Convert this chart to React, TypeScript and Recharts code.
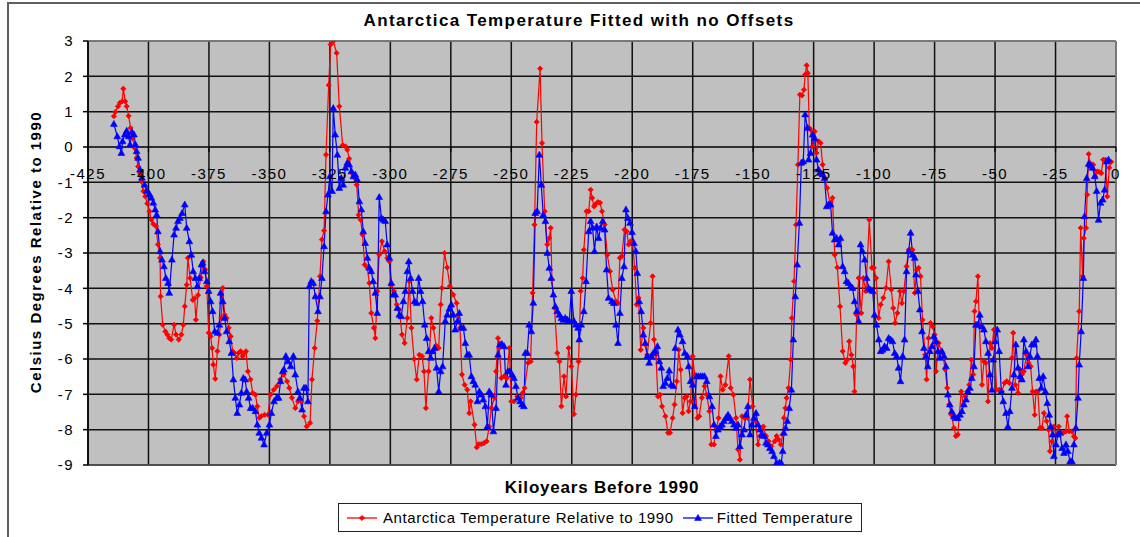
import React from "react";
import {
  CartesianGrid,
  Legend,
  Line,
  LineChart,
  ReferenceLine,
  XAxis,
  YAxis,
} from "recharts";

const TITLE = "Antarctica Temperature Fitted with no Offsets";
const X_TITLE = "Kiloyears Before 1990";
const Y_TITLE = "Celsius Degrees Relative to 1990";
const RED_NAME = "Antarctica Temperature Relative to 1990";
const BLUE_NAME = "Fitted Temperature";

const X_TICKS = [-425, -400, -375, -350, -325, -300, -275, -250, -225, -200, -175, -150, -125, -100, -75, -50, -25, 0];
const Y_TICKS = [-9, -8, -7, -6, -5, -4, -3, -2, -1, 0, 1, 2, 3];
const X_GRID = [-400, -375, -350, -325, -300, -275, -250, -225, -200, -175, -150, -125, -100, -75, -50, -25];
const Y_GRID = [-8, -7, -6, -5, -4, -3, -2, -1, 1, 2];

// [kiloyears, celsius]
const antarctica: [number, number][] = [
  [-414.3, 0.87], [-413.7, 0.99], [-412.6, 1.15], [-411.8, 1.25], [-410.9, 1.29], [-410.4, 1.65],
  [-409.6, 1.29], [-409.0, 1.15], [-408.2, 0.88], [-407.4, 0.54], [-406.5, 0.25], [-405.7, -0.03],
  [-404.9, -0.31], [-404.3, -0.55], [-403.5, -0.74], [-403.0, -0.97], [-402.1, -1.25], [-401.3, -1.4],
  [-400.5, -1.6], [-399.6, -1.82], [-398.8, -2.06], [-398.0, -2.18], [-396.9, -2.24], [-396.1, -2.76],
  [-395.2, -3.14], [-395.0, -4.23], [-394.1, -5.03], [-393.0, -5.22], [-392.2, -5.31], [-391.4, -5.41],
  [-390.6, -5.45], [-389.4, -5.03], [-388.6, -5.31], [-387.5, -5.45], [-386.4, -5.31], [-385.6, -5.03],
  [-385.0, -4.51], [-384.2, -3.9], [-383.7, -3.14], [-382.8, -3.71], [-381.7, -4.33], [-380.9, -4.28],
  [-380.4, -4.89], [-379.5, -4.19], [-378.4, -3.69], [-377.3, -3.24], [-376.5, -3.47], [-375.9, -3.94],
  [-375.1, -5.26], [-374.3, -5.36], [-373.7, -5.69], [-373.2, -6.16], [-372.4, -6.56], [-371.5, -5.78],
  [-370.7, -5.31], [-369.9, -4.84], [-369.3, -3.99], [-368.5, -4.75], [-367.7, -4.84], [-366.8, -5.12],
  [-366.0, -5.36], [-365.2, -5.78], [-364.4, -5.83], [-363.5, -5.97], [-362.7, -5.83], [-361.9, -5.78],
  [-361.1, -5.92], [-360.2, -5.83], [-359.7, -5.78], [-358.9, -6.35], [-357.8, -6.58], [-356.9, -6.96],
  [-355.8, -7.01], [-355.0, -7.34], [-354.2, -7.67], [-353.3, -7.62], [-352.0, -7.58], [-350.6, -7.58],
  [-349.6, -7.01], [-348.2, -6.87], [-346.9, -6.77], [-345.5, -6.58], [-344.1, -6.44], [-342.7, -6.63],
  [-341.8, -6.82], [-340.7, -7.1], [-339.3, -7.39], [-338.2, -7.2], [-336.8, -7.2], [-335.7, -7.62],
  [-334.6, -7.91], [-333.2, -7.81], [-332.4, -6.58], [-331.3, -5.69], [-330.2, -4.92], [-329.1, -3.66],
  [-328.3, -2.62], [-327.4, -2.37], [-326.6, -0.22], [-325.5, 1.75], [-324.7, 2.9], [-323.6, 3.0],
  [-322.2, 2.66], [-321.1, 1.15], [-319.7, 0.05], [-318.6, 0.02], [-317.8, -0.08], [-317.0, -0.33],
  [-315.9, -0.74], [-314.8, -0.88], [-313.9, -1.07], [-313.1, -1.92], [-312.3, -2.06], [-311.5, -2.48],
  [-310.6, -3.33], [-309.5, -3.42], [-308.7, -3.85], [-307.9, -4.7], [-306.8, -5.12], [-306.2, -5.41],
  [-305.4, -4.08], [-304.6, -3.05], [-303.5, -2.67], [-302.4, -2.95], [-301.3, -3.14], [-300.4, -3.24],
  [-299.6, -3.9], [-298.5, -4.08], [-297.4, -4.46], [-296.3, -4.6], [-295.2, -5.31], [-294.1, -5.55],
  [-293.0, -4.84], [-292.2, -3.8], [-291.3, -5.12], [-290.2, -6.0], [-289.1, -6.58], [-288.0, -5.88],
  [-286.9, -5.92], [-286.1, -6.35], [-285.3, -7.39], [-284.2, -6.35], [-283.1, -4.84], [-282.2, -5.12],
  [-281.1, -5.62], [-280.0, -5.69], [-279.2, -4.46], [-278.7, -3.99], [-277.6, -3.0], [-276.5, -3.41],
  [-275.4, -3.94], [-274.0, -4.18], [-272.6, -4.42], [-272.0, -4.75], [-271.2, -5.12], [-270.4, -6.44],
  [-269.3, -6.73], [-268.2, -6.87], [-267.4, -7.53], [-266.8, -7.2], [-265.2, -7.86], [-264.3, -8.5],
  [-263.5, -8.41], [-262.4, -8.41], [-261.3, -8.38], [-260.2, -8.33], [-259.1, -7.91], [-258.3, -7.39],
  [-256.9, -7.1], [-256.3, -6.35], [-255.5, -5.41], [-255.0, -5.69], [-254.1, -6.54], [-253.0, -6.49],
  [-251.9, -6.54], [-250.8, -5.69], [-250.0, -7.2], [-248.9, -7.2], [-247.5, -7.06], [-246.1, -7.1],
  [-245.3, -6.96], [-244.5, -6.82], [-243.1, -6.11], [-242.0, -6.07], [-241.2, -4.13], [-240.4, -2.2],
  [-239.5, 0.71], [-238.1, 2.22], [-237.3, 0.11], [-236.2, -1.82], [-235.1, -2.76], [-234.3, -2.58],
  [-233.7, -2.29], [-233.2, -3.75], [-232.1, -4.56], [-231.0, -5.83], [-230.1, -6.07], [-229.3, -7.34],
  [-228.2, -6.49], [-227.4, -7.06], [-226.3, -5.69], [-225.2, -6.21], [-224.1, -7.56], [-223.3, -7.01],
  [-222.2, -6.07], [-221.3, -4.08], [-220.5, -3.71], [-220.0, -2.91], [-218.9, -1.82], [-218.0, -1.82],
  [-217.2, -1.21], [-216.6, -1.44], [-215.8, -1.68], [-215.3, -1.63], [-214.2, -1.56], [-213.3, -1.58],
  [-212.5, -1.82], [-211.4, -2.2], [-210.3, -3.05], [-209.2, -3.52], [-208.1, -4.04], [-206.7, -4.37],
  [-205.9, -4.42], [-205.1, -3.14], [-204.3, -3.09], [-203.2, -2.34], [-202.3, -2.39], [-201.5, -2.76],
  [-200.7, -2.67], [-199.8, -2.75], [-199.0, -3.42], [-198.2, -4.46], [-197.4, -4.27], [-196.5, -5.74],
  [-195.4, -5.12], [-194.6, -5.59], [-193.8, -5.88], [-192.4, -4.98], [-191.6, -3.66], [-191.0, -5.45],
  [-190.2, -5.88], [-189.4, -7.06], [-188.5, -7.01], [-187.7, -7.34], [-186.3, -7.62], [-185.2, -8.09],
  [-184.4, -8.09], [-183.3, -7.67], [-182.5, -7.29], [-181.6, -6.63], [-180.8, -5.74], [-180.0, -6.3],
  [-179.2, -7.53], [-178.3, -7.1], [-177.5, -7.06], [-176.7, -7.48], [-175.9, -7.2], [-175.0, -5.92],
  [-174.2, -6.44], [-173.1, -7.67], [-172.3, -7.62], [-171.2, -7.1], [-170.1, -6.77], [-169.2, -7.01],
  [-168.1, -7.48], [-167.3, -8.42], [-166.2, -8.42], [-165.1, -7.95], [-164.3, -7.67], [-163.5, -6.49],
  [-162.6, -6.87], [-161.5, -6.73], [-160.1, -5.92], [-159.3, -6.82], [-158.2, -7.01], [-157.1, -7.67],
  [-156.3, -8.56], [-155.5, -8.85], [-154.6, -7.62], [-153.5, -7.67], [-152.4, -7.67], [-151.3, -6.58],
  [-150.2, -7.34], [-149.1, -7.76], [-148.0, -8.42], [-147.2, -8.18], [-145.8, -7.91], [-144.7, -8.18],
  [-143.6, -8.33], [-142.5, -8.47], [-141.1, -8.33], [-140.3, -8.18], [-139.5, -8.28], [-138.6, -8.42],
  [-137.8, -8.14], [-137.3, -7.67], [-136.7, -7.39], [-136.2, -7.1], [-135.4, -6.82], [-134.5, -6.02],
  [-134.0, -4.84], [-133.1, -3.8], [-132.3, -2.2], [-131.5, -0.5], [-130.7, 1.48], [-129.8, 1.46],
  [-129.0, 1.62], [-128.5, 2.05], [-127.9, 2.31], [-127.4, 2.09], [-126.8, 0.54], [-126.3, 0.49],
  [-125.4, 0.02], [-124.6, 0.44], [-123.8, -0.17], [-123.0, 0.16], [-122.1, 0.11], [-121.3, -0.5],
  [-120.5, -0.88], [-119.4, -1.16], [-118.3, -1.58], [-117.2, -1.44], [-116.3, -3.05], [-115.2, -3.41],
  [-114.1, -4.51], [-113.0, -5.78], [-111.9, -6.11], [-111.1, -6.02], [-110.3, -5.5], [-109.4, -5.88],
  [-108.6, -6.21], [-108.1, -6.92], [-107.2, -4.75], [-106.4, -3.71], [-105.3, -4.7], [-104.5, -3.71],
  [-103.4, -4.08], [-102.0, -2.06], [-100.9, -3.42], [-100.1, -3.42], [-99.2, -3.71], [-98.1, -4.84],
  [-97.3, -4.46], [-96.2, -4.27], [-95.1, -3.99], [-94.0, -3.24], [-92.9, -4.04], [-92.1, -4.56],
  [-91.3, -4.98], [-90.4, -4.7], [-89.3, -4.08], [-88.5, -4.42], [-87.7, -4.08], [-86.6, -3.38],
  [-85.7, -2.91], [-84.9, -2.91], [-84.1, -2.91], [-83.2, -4.13], [-82.4, -3.47], [-81.6, -3.42],
  [-80.8, -3.66], [-80.0, -4.89], [-78.9, -5.88], [-78.3, -6.58], [-77.5, -5.41], [-76.7, -4.98],
  [-75.8, -5.08], [-75.0, -5.31], [-74.4, -6.35], [-73.3, -5.55], [-72.2, -5.78], [-71.4, -5.97],
  [-70.6, -6.3], [-69.8, -6.82], [-68.9, -7.29], [-68.1, -7.58], [-67.0, -7.95], [-66.2, -8.18],
  [-65.4, -8.14], [-64.0, -6.92], [-63.1, -7.29], [-62.3, -7.06], [-61.5, -6.92], [-60.7, -6.73],
  [-59.8, -6.02], [-59.0, -6.44], [-58.5, -4.65], [-57.9, -4.37], [-57.1, -3.66], [-56.5, -5.03],
  [-55.4, -6.73], [-54.6, -6.07], [-53.8, -6.11], [-52.9, -7.2], [-52.1, -5.55], [-51.3, -5.69],
  [-50.5, -5.17], [-49.4, -6.87], [-48.3, -6.87], [-47.2, -6.92], [-46.1, -6.68], [-45.2, -6.63],
  [-44.1, -6.68], [-43.0, -5.97], [-42.5, -5.26], [-41.6, -6.73], [-40.5, -6.96], [-39.7, -6.3],
  [-38.9, -6.44], [-38.1, -6.35], [-37.0, -5.88], [-36.1, -6.11], [-35.3, -6.21], [-34.5, -6.92],
  [-33.6, -7.58], [-33.1, -6.92], [-32.3, -6.92], [-31.4, -7.95], [-30.6, -7.95], [-29.8, -7.53],
  [-28.7, -7.76], [-27.9, -8.0], [-27.3, -8.61], [-26.5, -8.33], [-25.7, -7.91], [-24.6, -8.14],
  [-23.7, -7.91], [-22.9, -8.09], [-21.8, -8.09], [-20.7, -8.05], [-20.2, -7.62], [-19.3, -8.05],
  [-18.2, -8.05], [-17.4, -8.19], [-16.8, -8.24], [-16.3, -5.97], [-15.2, -4.65], [-14.6, -2.29],
  [-13.8, -3.66], [-13.3, -2.58], [-12.4, -2.29], [-11.9, -1.35], [-11.3, -0.2], [-10.8, -0.45],
  [-10.0, -0.59], [-9.4, -0.5], [-8.6, -0.83], [-7.7, -0.69], [-6.9, -0.71], [-6.1, -0.74],
  [-5.3, -0.36], [-4.4, -0.36], [-3.6, -1.4], [-2.8, -0.59], [-2.0, -0.42],
];

const fitted: [number, number][] = [
  [-414.3, 0.65], [-412.9, 0.3], [-412.0, 0.02], [-411.2, -0.17], [-410.7, 0.16], [-409.8, 0.35],
  [-409.0, 0.46], [-408.2, 0.3], [-407.6, 0.07], [-406.8, 0.42], [-406.0, 0.35], [-405.4, 0.07],
  [-404.9, -0.12], [-404.3, -0.31], [-403.5, -0.64], [-402.7, -0.87], [-401.6, -1.07], [-400.7, -1.25],
  [-399.6, -1.33], [-398.8, -1.44], [-398.0, -1.58], [-397.2, -1.77], [-396.6, -1.92], [-396.1, -2.39],
  [-395.2, -2.95], [-394.4, -3.19], [-393.6, -3.38], [-392.8, -3.71], [-391.9, -3.85], [-391.4, -4.13],
  [-390.3, -3.19], [-389.4, -2.48], [-388.6, -2.29], [-387.8, -2.1], [-387.0, -2.01], [-386.1, -1.87],
  [-385.0, -1.63], [-384.2, -2.29], [-383.1, -2.67], [-382.3, -3.05], [-381.5, -3.52], [-380.6, -3.71],
  [-379.8, -3.94], [-379.0, -3.71], [-378.1, -3.33], [-377.6, -3.28], [-376.8, -3.52], [-375.9, -3.8],
  [-375.1, -4.08], [-374.3, -4.37], [-373.5, -4.65], [-372.6, -5.22], [-371.5, -5.26], [-370.7, -5.03],
  [-370.2, -4.13], [-369.3, -4.37], [-368.5, -4.84], [-367.7, -5.22], [-366.6, -5.5], [-365.7, -5.83],
  [-364.9, -6.58], [-364.1, -7.1], [-363.3, -7.53], [-362.4, -7.29], [-361.6, -6.96], [-360.8, -6.54],
  [-360.0, -6.58], [-359.4, -6.92], [-358.6, -7.1], [-357.8, -7.39], [-356.9, -7.39], [-355.8, -7.48],
  [-355.0, -7.86], [-354.2, -8.09], [-353.3, -8.23], [-352.2, -8.42], [-351.1, -8.09], [-350.0, -7.86],
  [-349.2, -7.53], [-348.1, -7.2], [-347.0, -7.1], [-346.2, -7.1], [-345.4, -6.63], [-344.5, -6.35],
  [-344.0, -6.3], [-343.2, -5.92], [-342.3, -6.07], [-341.2, -6.21], [-340.1, -5.92], [-339.3, -6.44],
  [-338.2, -6.92], [-337.4, -7.1], [-336.5, -7.43], [-335.7, -6.82], [-334.9, -6.82], [-334.1, -7.2],
  [-333.5, -3.94], [-332.7, -3.8], [-331.9, -3.85], [-331.0, -4.23], [-329.9, -4.65], [-329.1, -4.23],
  [-328.3, -3.71], [-327.4, -2.81], [-326.6, -1.82], [-325.8, -1.35], [-325.0, -0.83], [-324.1, -1.25],
  [-323.6, 1.1], [-322.8, 0.35], [-321.9, -0.22], [-321.1, -1.16], [-320.3, -0.88], [-319.5, -1.07],
  [-318.6, -0.59], [-317.8, -0.45], [-317.0, -0.5], [-316.1, -0.69], [-315.3, -0.83], [-314.5, -0.78],
  [-313.7, -0.92], [-312.8, -1.54], [-312.0, -1.77], [-311.2, -2.39], [-310.4, -2.72], [-309.5, -3.14],
  [-308.7, -3.42], [-307.9, -3.52], [-307.1, -3.8], [-306.2, -4.13], [-305.4, -4.7], [-304.6, -1.42],
  [-303.7, -2.01], [-302.9, -2.06], [-302.1, -2.1], [-301.3, -2.76], [-300.4, -3.14], [-299.6, -3.85],
  [-298.8, -4.18], [-298.0, -4.18], [-297.1, -4.56], [-296.3, -4.75], [-295.5, -4.79], [-294.6, -4.37],
  [-293.8, -4.08], [-293.0, -3.52], [-292.4, -3.24], [-291.6, -3.71], [-290.8, -4.08], [-290.0, -4.37],
  [-289.1, -4.42], [-288.3, -3.71], [-287.5, -4.08], [-286.7, -4.37], [-285.8, -5.03], [-285.0, -5.41],
  [-284.2, -5.78], [-283.3, -5.97], [-282.5, -5.78], [-281.7, -5.69], [-280.9, -6.25], [-280.0, -6.92],
  [-279.2, -6.35], [-278.4, -6.21], [-277.3, -4.93], [-276.5, -4.75], [-275.6, -4.58], [-274.8, -4.46],
  [-274.0, -4.75], [-273.2, -5.17], [-272.3, -4.93], [-271.5, -4.7], [-270.7, -5.12], [-269.8, -5.12],
  [-269.0, -5.55], [-268.2, -5.88], [-267.4, -5.88], [-266.5, -6.49], [-265.7, -6.63], [-264.9, -6.73],
  [-264.0, -7.2], [-263.2, -6.92], [-262.4, -7.01], [-261.6, -7.15], [-260.7, -7.34], [-259.9, -7.91],
  [-259.1, -6.92], [-258.3, -7.01], [-257.4, -8.05], [-256.3, -7.39], [-255.5, -5.88], [-254.7, -5.59],
  [-253.9, -5.58], [-253.0, -5.64], [-252.2, -6.73], [-251.4, -6.35], [-250.6, -6.35], [-249.7, -6.44],
  [-248.9, -6.54], [-248.1, -6.77], [-247.2, -7.1], [-246.4, -7.2], [-245.6, -7.29], [-244.8, -7.34],
  [-244.2, -5.83], [-243.4, -5.83], [-242.6, -5.03], [-241.7, -5.22], [-240.9, -4.41], [-240.1, -1.87],
  [-239.3, -1.82], [-238.4, -0.22], [-237.6, -1.07], [-236.8, -1.92], [-235.9, -2.1], [-235.1, -3.0],
  [-234.3, -3.42], [-233.5, -3.71], [-232.6, -4.18], [-231.8, -4.51], [-231.0, -4.65], [-230.1, -4.75],
  [-229.3, -4.84], [-228.5, -4.89], [-227.7, -4.84], [-226.8, -4.89], [-226.0, -4.93], [-225.2, -4.08],
  [-224.1, -4.93], [-223.3, -5.03], [-222.4, -5.12], [-221.9, -5.45], [-221.1, -5.03], [-220.0, -4.65],
  [-219.1, -3.8], [-218.0, -2.39], [-217.2, -2.1], [-216.4, -2.29], [-215.6, -2.95], [-214.7, -2.25],
  [-213.9, -2.58], [-213.1, -2.29], [-212.2, -2.1], [-211.4, -2.34], [-210.6, -3.47], [-209.8, -4.27],
  [-208.4, -4.37], [-207.6, -4.42], [-206.7, -5.03], [-205.9, -5.55], [-205.1, -4.7], [-204.3, -3.71],
  [-203.4, -3.38], [-202.6, -1.77], [-201.8, -2.01], [-200.9, -2.15], [-200.1, -2.41], [-199.3, -2.72],
  [-198.5, -2.95], [-197.9, -3.57], [-197.1, -4.37], [-196.3, -4.65], [-195.4, -5.31], [-194.6, -5.55],
  [-193.8, -5.92], [-193.0, -6.11], [-192.1, -5.92], [-191.3, -5.83], [-190.5, -5.78], [-189.6, -5.64],
  [-188.8, -6.07], [-188.0, -6.25], [-187.2, -6.77], [-186.3, -6.68], [-185.5, -6.54], [-184.7, -6.33],
  [-183.9, -6.73], [-183.0, -6.77], [-182.2, -5.69], [-181.1, -5.17], [-180.3, -5.31], [-179.2, -5.5],
  [-178.3, -5.83], [-177.2, -5.92], [-176.7, -6.21], [-175.9, -6.63], [-175.0, -6.73], [-174.2, -7.34],
  [-173.4, -6.49], [-172.6, -6.49], [-171.7, -6.49], [-170.9, -6.49], [-170.1, -6.49], [-169.2, -6.63],
  [-168.1, -7.06], [-167.0, -7.34], [-166.2, -7.86], [-165.4, -8.18], [-164.6, -8.0], [-163.7, -7.91],
  [-162.9, -7.86], [-162.1, -7.76], [-161.3, -7.67], [-160.4, -7.58], [-159.6, -7.67], [-158.8, -7.76],
  [-157.9, -7.86], [-157.1, -7.95], [-156.3, -7.86], [-155.5, -8.47], [-154.6, -8.14], [-153.8, -8.0],
  [-153.0, -7.58], [-152.2, -7.34], [-151.3, -8.14], [-150.5, -7.86], [-149.7, -7.67], [-148.8, -7.53],
  [-148.0, -7.86], [-147.2, -8.0], [-146.4, -8.14], [-145.5, -8.18], [-144.7, -8.37], [-143.9, -8.42],
  [-143.1, -8.52], [-142.2, -8.61], [-141.4, -8.75], [-140.3, -8.94], [-139.2, -8.94], [-138.4, -8.94],
  [-137.8, -8.61], [-137.3, -8.09], [-136.6, -7.95], [-135.9, -7.76], [-135.1, -7.39], [-134.2, -6.87],
  [-133.4, -5.45], [-132.6, -4.23], [-131.8, -3.33], [-130.9, -2.15], [-130.1, -0.45], [-129.3, -0.41],
  [-128.5, 0.92], [-127.6, 0.54], [-127.1, -0.36], [-126.3, -0.17], [-125.4, 0.35], [-124.6, 0.25],
  [-123.8, -0.36], [-123.0, -0.64], [-122.1, -0.74], [-121.3, -0.78], [-120.5, -0.88], [-119.6, -1.68],
  [-118.8, -1.63], [-118.0, -1.63], [-117.2, -2.43], [-116.3, -2.62], [-115.5, -2.58], [-114.7, -2.76],
  [-113.9, -2.58], [-113.0, -3.38], [-112.2, -3.52], [-111.4, -3.8], [-110.6, -3.85], [-109.8, -3.94],
  [-108.9, -3.99], [-108.1, -4.37], [-107.2, -4.65], [-106.4, -4.93], [-105.6, -2.76], [-104.8, -2.95],
  [-103.9, -3.19], [-103.1, -3.71], [-102.3, -3.99], [-101.5, -4.04], [-100.6, -4.08], [-99.8, -4.75],
  [-99.0, -5.03], [-98.1, -5.45], [-97.3, -5.78], [-96.5, -5.74], [-95.7, -5.64], [-94.8, -5.69],
  [-94.0, -5.41], [-93.2, -5.45], [-92.4, -5.5], [-91.5, -5.83], [-90.7, -5.92], [-89.9, -6.25],
  [-89.1, -6.63], [-88.2, -5.92], [-87.4, -5.45], [-86.6, -3.52], [-85.7, -2.95], [-84.9, -2.43],
  [-84.1, -3.05], [-83.2, -3.14], [-82.7, -3.61], [-81.9, -4.08], [-81.1, -4.6], [-80.2, -5.22],
  [-79.4, -5.69], [-78.6, -5.92], [-77.8, -6.21], [-76.9, -5.78], [-76.1, -5.64], [-75.3, -5.36],
  [-74.4, -5.5], [-73.6, -5.78], [-72.8, -5.97], [-72.0, -5.78], [-71.1, -5.92], [-70.3, -6.21],
  [-69.5, -7.01], [-68.7, -7.29], [-67.9, -7.48], [-67.0, -7.62], [-66.2, -7.67], [-65.4, -7.67],
  [-64.5, -7.58], [-63.7, -7.48], [-62.9, -7.29], [-62.0, -7.15], [-61.2, -6.92], [-60.4, -6.82],
  [-59.6, -6.54], [-58.7, -6.21], [-57.9, -5.03], [-57.1, -5.03], [-56.3, -4.75], [-55.4, -5.08],
  [-54.6, -5.17], [-53.8, -5.5], [-52.9, -5.83], [-52.1, -6.44], [-51.3, -6.87], [-50.7, -6.02],
  [-49.9, -5.5], [-49.1, -5.17], [-48.3, -5.78], [-47.4, -6.92], [-46.6, -7.2], [-45.5, -7.53],
  [-44.7, -7.91], [-43.9, -7.48], [-43.0, -6.82], [-42.2, -6.44], [-41.4, -5.59], [-40.5, -6.25],
  [-39.7, -6.49], [-38.9, -6.58], [-38.1, -5.45], [-37.2, -5.78], [-36.4, -6.21], [-35.6, -5.92],
  [-34.8, -5.59], [-33.9, -5.59], [-33.1, -5.45], [-32.5, -5.92], [-31.7, -6.54], [-30.9, -6.82],
  [-30.1, -6.49], [-29.2, -6.92], [-28.4, -7.25], [-27.6, -7.58], [-27.0, -7.91], [-26.2, -8.14],
  [-25.7, -8.75], [-24.8, -8.42], [-24.0, -8.14], [-23.2, -8.09], [-22.3, -8.52], [-21.5, -8.66],
  [-20.7, -8.42], [-19.9, -8.61], [-19.0, -8.9], [-18.2, -8.9], [-17.4, -8.42], [-16.6, -7.95],
  [-15.7, -7.1], [-15.2, -6.16], [-14.4, -5.22], [-13.5, -3.71], [-13.0, -1.96], [-12.1, -0.88],
  [-11.3, -0.48], [-10.5, -0.52], [-9.7, -0.59], [-8.8, -0.83], [-8.0, -1.25], [-7.2, -2.06],
  [-6.4, -1.58], [-5.5, -1.49], [-4.7, -1.21], [-3.9, -0.41], [-3.1, -0.36],
];

const toRows = (pts: [number, number][]) => pts.map(([age, temp]) => ({ age, temp }));
const redRows = toRows(antarctica);
const blueRows = toRows(fitted);

const W = 1140;
const H = 537;
const M = { top: 41, right: 24, left: 0, bottom: 32 };
const Y_AXIS_W = 88;
const X_AXIS_H = 40;
const PLOT_H = H - M.top - M.bottom - X_AXIS_H;
// x axis crosses at 0, Excel style
const ZERO_FROM_BOTTOM = (PLOT_H * (0 - Y_TICKS[0])) / (Y_TICKS[Y_TICKS.length - 1] - Y_TICKS[0]);
const FONT = "'Liberation Sans', Arial, sans-serif";

const RedDot = (p: any) => {
  const { cx, cy } = p;
  if (cx == null || cy == null) return null;
  const s = 2.6;
  return <path d={`M${cx},${cy - s}L${cx + s},${cy}L${cx},${cy + s}L${cx - s},${cy}Z`} fill="#ff0000" stroke="#ff0000" strokeWidth={0.8} />;
};

const BlueDot = (p: any) => {
  const { cx, cy } = p;
  if (cx == null || cy == null) return null;
  return <path d={`M${cx},${cy - 3.6}L${cx + 3.4},${cy + 2.4}L${cx - 3.4},${cy + 2.4}Z`} fill="#0000ff" stroke="#0000ff" strokeWidth={0.6} />;
};

const XTick = (p: any) => {
  const { x, y, payload } = p;
  const zy = y - ZERO_FROM_BOTTOM;
  return (
    <g>
      <line x1={x} x2={x} y1={zy} y2={zy + 5} stroke="#000" strokeWidth={1.2} />
      <text x={x} y={zy + 32} textAnchor="middle" fill="#000" fontSize={15} letterSpacing={1.5} fontFamily={FONT}>
        {payload.value}
      </text>
    </g>
  );
};

const YTitle = (p: any) => {
  const { viewBox } = p;
  const cx = 35;
  const cy = viewBox.y + viewBox.height / 2 - 1;
  return (
    <text x={cx} y={cy} transform={`rotate(-90 ${cx} ${cy})`} textAnchor="middle" dominantBaseline="central"
      fontWeight="bold" fontSize={15} letterSpacing={1.5} fill="#000" fontFamily={FONT}>
      {Y_TITLE}
    </text>
  );
};

const XTitle = (p: any) => {
  const { viewBox } = p;
  return (
    <text x={viewBox.x + viewBox.width / 2} y={viewBox.y + 28} textAnchor="middle" fontWeight="bold"
      fontSize={17} letterSpacing={0.8} fill="#000" fontFamily={FONT}>
      {X_TITLE}
    </text>
  );
};

const LegendBox = (p: any) => {
  const items = p.payload || [];
  return (
    <div style={{ border: "1px solid #222", height: 27, display: "flex", alignItems: "center", justifyContent: "center", background: "#fff", fontFamily: FONT, fontSize: 15, letterSpacing: 0.6, color: "#000" }}>
      {items.map((it: any, i: number) => {
        const blue = it.value === BLUE_NAME;
        return (
          <div key={i} style={{ display: "flex", alignItems: "center", marginLeft: i ? 9 : 0 }}>
            <svg width={30} height={12} style={{ marginRight: blue ? 4 : 6 }}>
              <line x1={0} x2={30} y1={6} y2={6} stroke={it.color} strokeWidth={1.3} />
              {blue ? <BlueDot cx={15} cy={6} /> : <RedDot cx={15} cy={6} />}
            </svg>
            <span>{it.value}</span>
          </div>
        );
      })}
    </div>
  );
};

export default function App() {
  return (
    <div style={{ position: "relative", width: W, height: H, background: "#fff", overflow: "hidden", fontFamily: FONT }}>
      <style>{"body{margin:0}"}</style>
      <div style={{ position: "absolute", left: 7, top: 2, width: W, height: H, borderTop: "2px solid #5f5f5f", borderLeft: "2px solid #5f5f5f" }} />
      <div style={{ position: "absolute", left: 0, width: 1158, top: 10, textAlign: "center", fontWeight: "bold", fontSize: 17, letterSpacing: 1.4, lineHeight: "22px", zIndex: 2 }}>
        {TITLE}
      </div>
      <LineChart width={W} height={H} margin={M} style={{ position: "absolute", left: 0, top: 0 }}>
        <CartesianGrid xAxisId="grid" yAxisId="grid" stroke="#111" strokeWidth={1.5} fill="#c0c0c0" fillOpacity={1} />
        <XAxis xAxisId="grid" type="number" dataKey="age" domain={[-425, 0]} ticks={X_GRID} hide allowDataOverflow />
        <YAxis yAxisId="grid" type="number" domain={[-9, 3]} ticks={Y_GRID} hide allowDataOverflow />
        <XAxis
          type="number"
          dataKey="age"
          domain={[-425, 0]}
          ticks={X_TICKS}
          interval={0}
          allowDataOverflow
          height={X_AXIS_H}
          axisLine={false}
          tickLine={false}
          tickSize={0}
          tickMargin={0}
          tick={<XTick />}
          label={<XTitle />}
        />
        <YAxis
          type="number"
          domain={[-9, 3]}
          ticks={Y_TICKS}
          interval={0}
          allowDataOverflow
          width={Y_AXIS_W}
          axisLine={{ stroke: "#000", strokeWidth: 1.5 }}
          tickLine={{ stroke: "#000", strokeWidth: 1.5 }}
          tickSize={5}
          tickMargin={9}
          tick={{ fill: "#000", fontSize: 15, letterSpacing: 1.5, fontFamily: FONT }}
          label={<YTitle />}
        />
        <ReferenceLine y={3} stroke="#8a8a8a" strokeWidth={1.5} />
        <ReferenceLine y={-9} stroke="#555" strokeWidth={1.5} />
        <ReferenceLine x={0} stroke="#8a8a8a" strokeWidth={1.5} />
        <ReferenceLine y={0} stroke="#000" strokeWidth={1.5} />
        <Line data={redRows} dataKey="temp" name={RED_NAME} type="linear" stroke="#ff0000" strokeWidth={1.2}
          dot={<RedDot />} activeDot={false} isAnimationActive={false} />
        <Line data={blueRows} dataKey="temp" name={BLUE_NAME} type="linear" stroke="#0000ff" strokeWidth={1.2}
          dot={<BlueDot />} activeDot={false} isAnimationActive={false} />
        <Legend layout="horizontal" align="center" verticalAlign="middle" content={<LegendBox />}
          wrapperStyle={{ left: 338, top: 503, width: 524, height: 29 }} />
      </LineChart>
    </div>
  );
}
